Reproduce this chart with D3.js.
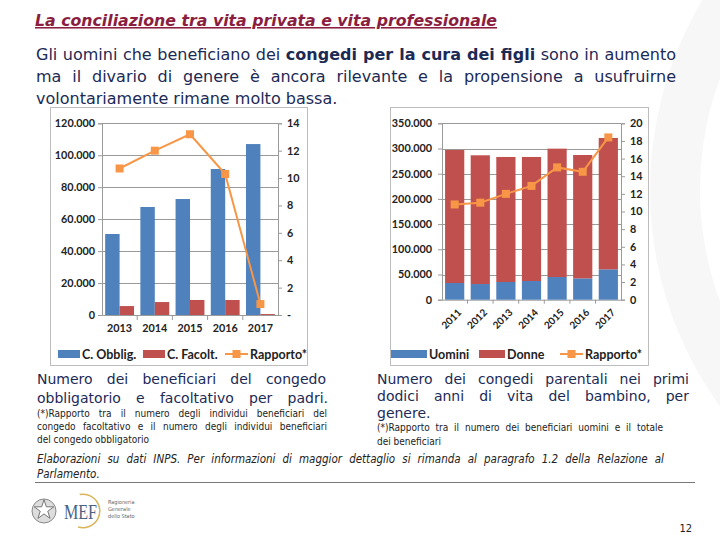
<!DOCTYPE html>
<html>
<head>
<meta charset="utf-8">
<script src="https://cdn.jsdelivr.net/npm/d3@7"></script>
<style>
  body { margin: 0; background: #fff; }
  svg { display: block; }
</style>
</head>
<body>
<script>
// chart 1 data: padri, congedo obbligatorio / facoltativo
var years1 = ["2013", "2014", "2015", "2016", "2017"];
var obblig = [50700, 67600, 72600, 91400, 107000];
var facolt = [5600, 8100, 9400, 9400, 600];
var rapporto1 = [10.7, 12.0, 13.2, 10.3, 0.8];
var ticks1Left = [0, 20000, 40000, 60000, 80000, 100000, 120000];
var ticks1Right = [0, 2, 4, 6, 8, 10, 12, 14];

// chart 2 data: congedi parentali per genere
var years2 = ["2011", "2012", "2013", "2014", "2015", "2016", "2017"];
var uomini = [33100, 31100, 35100, 37100, 45000, 42300, 60200];
var donne = [264000, 255400, 248100, 246100, 254700, 244800, 260700];
var rapporto2 = [10.8, 11.0, 12.0, 12.9, 15.0, 14.5, 18.4];
var ticks2Left = [0, 50000, 100000, 150000, 200000, 250000, 300000, 350000];
var ticks2Right = [0, 2, 4, 6, 8, 10, 12, 14, 16, 18, 20];

var BLUE = "#4f81bd", RED = "#c0504d", ORANGE = "#f79646";
var NAVY = "#1c2a55", GRID = "#9a9a9a";
var TXT = "'DejaVu Sans', sans-serif";
var SMALL = "'DejaVu Sans Condensed', 'DejaVu Sans', sans-serif";
var LBL = "Lato, 'Open Sans', sans-serif";

var it = d3.formatLocale({decimal: ",", thousands: ".", grouping: [3], currency: ["", ""]});
var fmt = it.format(",d");

var svg = d3.select("body").append("svg")
    .attr("width", 720)
    .attr("height", 540);

// faint background ring
svg.append("path")
    .attr("d", d3.arc()({innerRadius: 320, outerRadius: 370, startAngle: -Math.PI, endAngle: 0}))
    .attr("transform", "translate(1020,190)")
    .attr("fill", "#f7f7f7");

// stretch a line to a given width by widening the gaps between words
function justify(t, w) {
    var n = t.node();
    var natural = n.getComputedTextLength();
    var gaps = (n.textContent.match(/ /g) || []).length;
    if (natural < w && gaps > 0) {
        t.attr("word-spacing", (w - natural) / gaps);
    } else if (natural > w) {
        t.attr("textLength", w).attr("lengthAdjust", "spacingAndGlyphs");
    }
    return t;
}

// ---------- header ----------
svg.append("text")
    .attr("x", 35).attr("y", 26)
    .attr("font-family", SMALL).attr("font-size", 15.5)
    .attr("font-style", "italic").attr("font-weight", "bold")
    .attr("fill", "#8b1e3f")
    .attr("text-decoration", "underline")
    .attr("textLength", 462).attr("lengthAdjust", "spacingAndGlyphs")
    .text("La conciliazione tra vita privata e vita professionale");

var p1 = svg.append("text")
    .attr("x", 36).attr("y", 60)
    .attr("font-family", TXT).attr("font-size", 16).attr("fill", NAVY);
p1.append("tspan").text("Gli uomini che beneficiano dei ");
p1.append("tspan").attr("font-weight", "bold").text("congedi per la cura dei figli");
p1.append("tspan").text(" sono in aumento");
justify(p1, 640);

justify(svg.append("text")
    .attr("x", 36).attr("y", 82)
    .attr("font-family", TXT).attr("font-size", 16).attr("fill", NAVY)
    .text("ma il divario di genere è ancora rilevante e la propensione a usufruirne"), 640);

svg.append("text")
    .attr("x", 36).attr("y", 104)
    .attr("font-family", TXT).attr("font-size", 16).attr("fill", NAVY)
    .text("volontariamente rimane molto bassa.");

// chart frames
svg.append("rect").attr("x", 50.5).attr("y", 107.5).attr("width", 257).attr("height", 258)
    .attr("fill", "#fff").attr("stroke", "#bdbdbd");
svg.append("rect").attr("x", 390.5).attr("y", 107.5).attr("width", 258).attr("height", 258)
    .attr("fill", "#fff").attr("stroke", "#bdbdbd");

function styleAxis(g, size) {
    g.selectAll("text")
        .attr("font-family", LBL).attr("font-weight", "bold")
        .attr("font-size", size).attr("fill", "#222");
    g.selectAll("line").attr("stroke", GRID);
    g.select(".domain").attr("stroke", GRID);
}

// ---------- chart 1 ----------
var c1 = {left: 102, right: 278, top: 123.3, bottom: 315};

var x1 = d3.scaleBand().domain(years1).range([c1.left, c1.right]);
var x1s = d3.scaleBand().domain(["obblig", "facolt"]).range([0, x1.bandwidth()]).paddingOuter(0.22);
var y1L = d3.scaleLinear().domain([0, 120000]).range([c1.bottom, c1.top]);
var y1R = d3.scaleLinear().domain([0, 14]).range([c1.bottom, c1.top]);

var g1 = svg.append("g");

g1.append("g").selectAll("line")
    .data(ticks1Left.slice(1))
    .join("line")
    .attr("x1", c1.left).attr("x2", c1.right)
    .attr("y1", function(d) { return Math.round(y1L(d)) + 0.5; })
    .attr("y2", function(d) { return Math.round(y1L(d)) + 0.5; })
    .attr("stroke", GRID);

var ax1L = g1.append("g").attr("transform", "translate(" + c1.left + ",0)")
    .call(d3.axisLeft(y1L).tickValues(ticks1Left).tickFormat(fmt).tickSize(4).tickPadding(3));
styleAxis(ax1L, 10.8);

var ax1R = g1.append("g").attr("transform", "translate(" + c1.right + ",0)")
    .call(d3.axisRight(y1R).tickValues(ticks1Right)
        .tickFormat(function(d) { return d === 0 ? "-" : d; }).tickSize(4).tickPadding(5));
styleAxis(ax1R, 10.8);

var ax1B = g1.append("g").attr("transform", "translate(0," + c1.bottom + ")")
    .call(d3.axisBottom(x1).tickSize(0).tickPadding(9));
styleAxis(ax1B, 10.8);
// tick marks between categories
ax1B.selectAll(".sep")
    .data(years1.slice(1))
    .join("line")
    .attr("class", "sep")
    .attr("x1", function(d) { return x1(d); }).attr("x2", function(d) { return x1(d); })
    .attr("y1", 0).attr("y2", 5)
    .attr("stroke", GRID);

g1.append("g").selectAll("rect")
    .data(years1)
    .join("rect")
    .attr("x", function(d) { return x1(d) + x1s("obblig"); })
    .attr("y", function(d, i) { return y1L(obblig[i]); })
    .attr("width", x1s.bandwidth())
    .attr("height", function(d, i) { return c1.bottom - y1L(obblig[i]); })
    .attr("fill", BLUE);

g1.append("g").selectAll("rect")
    .data(years1)
    .join("rect")
    .attr("x", function(d) { return x1(d) + x1s("facolt"); })
    .attr("y", function(d, i) { return y1L(facolt[i]); })
    .attr("width", x1s.bandwidth())
    .attr("height", function(d, i) { return c1.bottom - y1L(facolt[i]); })
    .attr("fill", RED);

var line1 = d3.line()
    .x(function(d, i) { return x1(years1[i]) + x1.bandwidth() / 2; })
    .y(function(d) { return y1R(d); });

g1.append("path")
    .datum(rapporto1)
    .attr("d", line1)
    .attr("fill", "none").attr("stroke", ORANGE).attr("stroke-width", 2);

g1.append("g").selectAll("rect")
    .data(rapporto1)
    .join("rect")
    .attr("x", function(d, i) { return x1(years1[i]) + x1.bandwidth() / 2 - 4; })
    .attr("y", function(d) { return y1R(d) - 4; })
    .attr("width", 8).attr("height", 8)
    .attr("fill", ORANGE);

// ---------- chart 2 ----------
var c2 = {left: 442, right: 621, top: 123.3, bottom: 299.7};

var x2 = d3.scaleBand().domain(years2).range([c2.left, c2.right]).paddingInner(0.25).paddingOuter(0.12);
var y2L = d3.scaleLinear().domain([0, 350000]).range([c2.bottom, c2.top]);
var y2R = d3.scaleLinear().domain([0, 20]).range([c2.bottom, c2.top]);

var g2 = svg.append("g");

g2.append("g").selectAll("line")
    .data(ticks2Left.slice(1))
    .join("line")
    .attr("x1", c2.left).attr("x2", c2.right)
    .attr("y1", function(d) { return Math.round(y2L(d)) + 0.5; })
    .attr("y2", function(d) { return Math.round(y2L(d)) + 0.5; })
    .attr("stroke", GRID);

var ax2L = g2.append("g").attr("transform", "translate(" + c2.left + ",0)")
    .call(d3.axisLeft(y2L).tickValues(ticks2Left).tickFormat(fmt).tickSize(4).tickPadding(6));
styleAxis(ax2L, 10.8);

var ax2R = g2.append("g").attr("transform", "translate(" + c2.right + ",0)")
    .call(d3.axisRight(y2R).tickValues(ticks2Right).tickSize(4).tickPadding(5));
styleAxis(ax2R, 10.8);

var ax2B = g2.append("g").attr("transform", "translate(0," + c2.bottom + ")")
    .call(d3.axisBottom(x2).tickSize(0));
styleAxis(ax2B, 10);
ax2B.selectAll("text")
    .attr("x", 0).attr("y", 0)
    .attr("text-anchor", "end")
    .attr("dy", "0.35em")
    .attr("transform", "translate(5,11) rotate(-45)");
ax2B.selectAll(".sep")
    .data(years2.slice(1))
    .join("line")
    .attr("class", "sep")
    .attr("x1", function(d) { return x2(d) - x2.step() * x2.paddingInner() / 2; })
    .attr("x2", function(d) { return x2(d) - x2.step() * x2.paddingInner() / 2; })
    .attr("y1", 0).attr("y2", 4)
    .attr("stroke", GRID);

var stack = d3.stack().keys(["uomini", "donne"]);
var rows2 = years2.map(function(y, i) { return {year: y, uomini: uomini[i], donne: donne[i]}; });
var series2 = stack(rows2);
var col2 = {uomini: BLUE, donne: RED};

g2.append("g").selectAll("g")
    .data(series2)
    .join("g")
    .attr("fill", function(s) { return col2[s.key]; })
    .selectAll("rect")
    .data(function(s) { return s; })
    .join("rect")
    .attr("x", function(d) { return x2(d.data.year); })
    .attr("y", function(d) { return y2L(d[1]); })
    .attr("width", x2.bandwidth())
    .attr("height", function(d) { return y2L(d[0]) - y2L(d[1]); });

var line2 = d3.line()
    .x(function(d, i) { return x2(years2[i]) + x2.bandwidth() / 2; })
    .y(function(d) { return y2R(d); });

g2.append("path")
    .datum(rapporto2)
    .attr("d", line2)
    .attr("fill", "none").attr("stroke", ORANGE).attr("stroke-width", 2);

g2.append("g").selectAll("rect")
    .data(rapporto2)
    .join("rect")
    .attr("x", function(d, i) { return x2(years2[i]) + x2.bandwidth() / 2 - 4; })
    .attr("y", function(d) { return y2R(d) - 4; })
    .attr("width", 8).attr("height", 8)
    .attr("fill", ORANGE);

// ---------- legends ----------
function legend(items, y) {
    var g = svg.append("g");
    items.forEach(function(it) {
        if (it.type === "rect") {
            g.append("rect").attr("x", it.x).attr("y", y - 4).attr("width", it.w).attr("height", 8)
                .attr("fill", it.color);
        } else {
            g.append("line").attr("x1", it.x).attr("x2", it.x + it.w).attr("y1", y).attr("y2", y)
                .attr("stroke", it.color).attr("stroke-width", 2);
            g.append("rect").attr("x", it.x + it.w / 2 - 4).attr("y", y - 4).attr("width", 8).attr("height", 8)
                .attr("fill", it.color);
        }
        g.append("text").attr("x", it.x + it.w + 2).attr("y", y + 4.5)
            .attr("font-family", LBL).attr("font-weight", "bold").attr("font-size", 12.5)
            .attr("fill", "#222").text(it.label);
    });
}
legend([
    {type: "rect", x: 58, w: 22, color: BLUE, label: "C. Obblig."},
    {type: "rect", x: 143, w: 22, color: RED, label: "C. Facolt."},
    {type: "line", x: 225, w: 23, color: ORANGE, label: "Rapporto*"}
], 354);
legend([
    {type: "rect", x: 391, w: 36, color: BLUE, label: "Uomini"},
    {type: "rect", x: 479, w: 26, color: RED, label: "Donne"},
    {type: "line", x: 560, w: 23, color: ORANGE, label: "Rapporto*"}
], 354);

// ---------- captions ----------
function line(txt, x, y, size, w, opts) {
    var t = svg.append("text").attr("x", x).attr("y", y)
        .attr("font-family", (opts && opts.font) || TXT).attr("font-size", size)
        .attr("fill", (opts && opts.fill) || NAVY)
        .text(txt);
    if (opts && opts.italic) t.attr("font-style", "italic");
    if (w) justify(t, w);
    return t;
}
var note = {fill: "#222", font: SMALL};
line("Numero dei beneficiari del congedo", 37, 384, 14, 289);
line("obbligatorio e facoltativo per padri.", 37, 403, 14, 291);
line("(*)Rapporto tra il numero degli individui beneficiari del", 37, 417, 10, 290, note);
line("congedo facoltativo e il numero degli individui beneficiari", 37, 430, 10, 290, note);
line("del congedo obbligatorio", 37, 443, 10, 0, note);

line("Numero dei congedi parentali nei primi", 377, 384, 14, 312);
line("dodici anni di vita del bambino, per", 377, 401, 14, 312);
line("genere.", 377, 418, 14, 0);
line("(*)Rapporto tra il numero dei beneficiari uomini e il totale", 377, 431, 10, 286, note);
line("dei beneficiari", 377, 445, 10, 0, note);

line("Elaborazioni su dati INPS. Per informazioni di maggior dettaglio si rimanda al paragrafo 1.2 della Relazione al",
    37, 463, 11.5, 627, {italic: true, fill: "#222", font: SMALL});
line("Parlamento.", 37, 478, 11.5, 0, {italic: true, fill: "#222", font: SMALL});

svg.append("line").attr("x1", 35).attr("x2", 695).attr("y1", 482.5).attr("y2", 482.5)
    .attr("stroke", "#777").attr("stroke-width", 1);

// ---------- footer logos ----------
var logo = svg.append("g");
logo.append("circle").attr("cx", 44).attr("cy", 511).attr("r", 12)
    .attr("fill", "#ddd").attr("stroke", "#888");
logo.append("path").attr("d", d3.symbol(d3.symbolStar, 120)())
    .attr("transform", "translate(44,510)").attr("fill", "#fff").attr("stroke", "#777");
logo.append("path")
    .attr("d", d3.arc()({innerRadius: 16, outerRadius: 17.5, startAngle: -0.2, endAngle: Math.PI + 0.3}))
    .attr("transform", "translate(83,511)").attr("fill", "#d9b45a");
logo.append("text").attr("x", 64).attr("y", 519)
    .attr("font-family", "'Liberation Serif', serif").attr("font-size", 20).attr("fill", "#4a6284")
    .attr("textLength", 33).attr("lengthAdjust", "spacingAndGlyphs")
    .text("MEF");
["Ragioneria", "Generale", "dello Stato"].forEach(function(s, i) {
    logo.append("text").attr("x", 108).attr("y", 504 + i * 7)
        .attr("font-family", SMALL).attr("font-size", 5.5).attr("fill", "#666").text(s);
});

svg.append("text").attr("x", 692).attr("y", 532).attr("text-anchor", "end")
    .attr("font-family", SMALL).attr("font-size", 11).attr("fill", "#222").text("12");
</script>
</body>
</html>
